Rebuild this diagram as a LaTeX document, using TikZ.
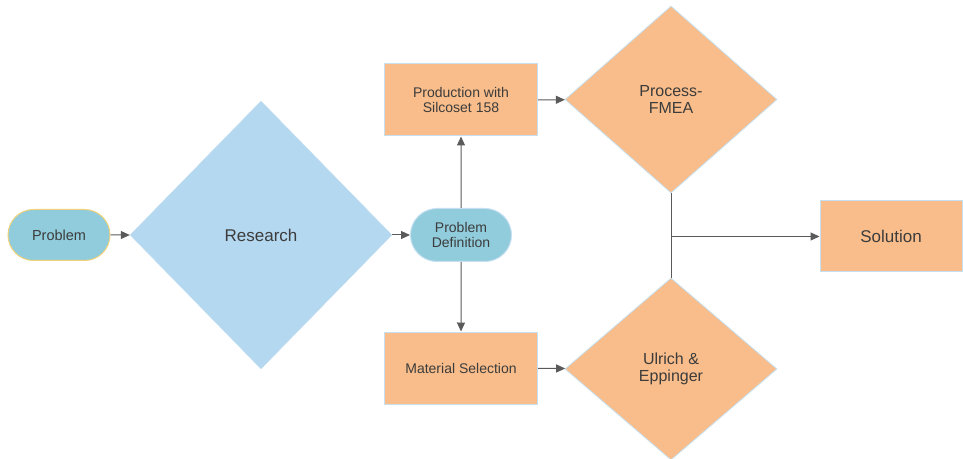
\documentclass[tikz,border=0pt]{standalone}
\usepackage{fontspec}
\setmainfont{Liberation Sans}
\usetikzlibrary{shapes.geometric,shapes.misc,arrows.meta}

\definecolor{boxorange}{HTML}{F8BD8A}
\definecolor{diablue}{HTML}{B4D8F0}
\definecolor{pilltea}{HTML}{90CCDB}
\definecolor{edgeblue}{HTML}{C6E0F2}
\definecolor{edgeyellow}{HTML}{F0D27A}
\definecolor{txtgray}{HTML}{3C3C3C}
\definecolor{arrgray}{HTML}{5A5A5A}

\begin{document}
\begin{tikzpicture}[x=1pt, y=1pt,
        every node/.style={text=txtgray, align=center},
        pill/.style={rounded rectangle, fill=pilltea, draw=edgeblue, line width=1pt, inner sep=0pt},
        stepbox/.style={rectangle, fill=boxorange, draw=edgeblue, line width=1pt, inner sep=0pt},
        decide/.style={diamond, fill=boxorange, draw=edgeblue, line width=0.8pt, inner sep=0pt},
        flow/.style={draw=arrgray, line width=1pt, -{Triangle[length=9pt, width=8pt]}}]
        \useasboundingbox (0,0) rectangle (963,458);

        % left part
        \node[pill, draw=edgeyellow, minimum width=102, minimum height=51,
            font=\fontsize{14.5}{16}\selectfont] (problem) at (59,223) {Problem};
        \node[diamond, fill=diablue, draw=edgeblue, inner sep=0pt, minimum width=262, minimum height=268,
            font=\fontsize{17}{19}\selectfont] (research) at (261,223) {Research};
        \node[pill, minimum width=101, minimum height=53,
            font=\fontsize{14}{15}\selectfont] (probdef) at (461,223) {Problem\\Definition};

        % middle boxes
        \node[stepbox, minimum width=153, minimum height=72,
            font=\fontsize{14}{15.5}\selectfont] (production) at (461,358) {Production with\\Silcoset 158};
        \node[stepbox, minimum width=153, minimum height=72,
            font=\fontsize{14}{16}\selectfont] (material) at (461,90) {Material Selection};

        % decisions and result
        \node[decide, minimum width=212, minimum height=187,
            font=\fontsize{16}{17.5}\selectfont] (fmea) at (671,358.5) {Process-\\FMEA};
        \node[decide, minimum width=212, minimum height=182,
            font=\fontsize{16}{17.5}\selectfont] (ulrich) at (671,89) {Ulrich \&\\Eppinger};
        \node[stepbox, minimum width=142, minimum height=71,
            font=\fontsize{17}{19}\selectfont] (solution) at (891,221.5) {Solution};

        \draw[flow] (problem) -- (research);
        \draw[flow] (research) -- (probdef);
        \draw[flow] (probdef) -- (production);
        \draw[flow] (probdef) -- (material);
        \draw[flow] (production) -- (fmea);
        \draw[flow] (material) -- (ulrich);

        \coordinate (join) at (fmea.south |- solution.west);
        \draw[arrgray, line width=1pt] (fmea.south) -- (ulrich.north);
        \draw[flow] (join) -- (solution);
    \end{tikzpicture}
\end{document}
